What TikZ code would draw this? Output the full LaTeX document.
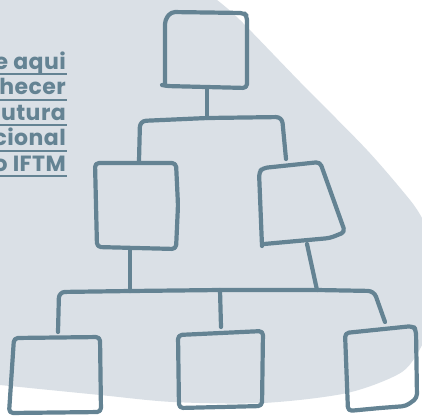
\documentclass[tikz,border=0pt]{standalone}
\usepackage{fontspec}
\setmainfont{Poppins}[LetterSpace=2]
\definecolor{bgc}{RGB}{218,224,230}
\definecolor{ink}{RGB}{100,131,147}
\begin{document}
\begin{tikzpicture}[x=1pt,y=-1pt,
  sketch/.style={draw=ink,line width=4.2pt,line cap=round,line join=round,rounded corners=4pt},
  lbl/.style={text=ink,font=\bfseries\fontsize{22}{24}\selectfont,inner sep=0pt,anchor=base east},
  uline/.style={draw=ink,line width=2pt}]
\clip (0,0) rectangle (422,416);
\fill[white] (0,0) rectangle (422,416);
% background blob
\fill[bgc] (0,0) -- (217,0)
  -- plot[smooth] coordinates {(217,0) (240,20) (300,82) (367,150) (410,200) (422,218)}
  -- (422,345)
  -- plot[smooth] coordinates {(422,345) (402,372) (347,393) (263,403) (173,402) (100,395) (0,385)}
  -- cycle;
% text (clipped at the left edge, as in the reference)
\node[lbl] (t1) at (66,69) {Clique aqui};
\node[lbl] (t2) at (66,94.5) {para conhecer};
\node[lbl] (t3) at (66,120) {a estrutura};
\node[lbl] (t4) at (66,145.5) {organizacional};
\node[lbl] (t5) at (66,171) {do IFTM};
\foreach \t in {t1,t2,t3,t4,t5}
  \draw[uline] ([yshift=-5pt]\t.base west) -- ([yshift=-5pt,xshift=1pt]\t.base east);
% boxes
\draw[sketch] (162,85) -- (166,86) -- (247,88) -- (247,16) -- (244,13) -- (171,12) -- (165,20) -- (165,84);
\draw[sketch] (95,163) -- (176,163) -- (178,205) -- (176,249) -- (97,247) -- cycle;
\draw[sketch] (262,246) -- (259,172) -- (263,168) -- (320,162) -- (345,232) -- (330,238) -- (264,244);
\draw[sketch] (14,338) -- (100,337) -- (101,412) -- (9,413) -- cycle;
\draw[sketch] (178,335) -- (263,331) -- (262,406) -- (179,408) -- cycle;
\draw[sketch] (345,333) -- (413,326) -- (416,330) -- (417,398) -- (406,406) -- (380,408) -- (348,411) -- cycle;
% connector points
\coordinate (topB) at (207,88);
\coordinate (j1) at (207,118);
\coordinate (mlT) at (139,161);
\coordinate (mrT) at (286,159);
\coordinate (mlB) at (130,249);
\coordinate (mrB) at (307,244);
\coordinate (j2a) at (130,291);
\coordinate (j2b) at (317,290);
\coordinate (j2c) at (220,290);
\coordinate (blT) at (58,332);
\coordinate (bmT) at (221,327);
\coordinate (brT) at (385,322);
% connectors
\draw[sketch] (topB) -- (j1);
\draw[sketch,rounded corners=6pt] (mlT) -- (140,121) -- (j1) -- (282,117) -- (mrT);
\draw[sketch] (mlB) -- (j2a);
\draw[sketch] (mrB) -- (j2b);
\draw[sketch,rounded corners=6pt] (blT) -- (59,292) -- (j2a) -- (j2c) -- (j2b) -- (374,291) -- (brT);
\draw[sketch] (j2c) -- (bmT);
\end{tikzpicture}
\end{document}
